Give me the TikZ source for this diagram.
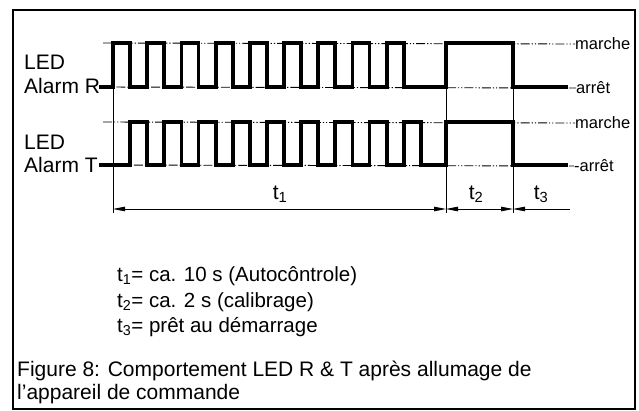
\documentclass[tikz,border=0pt]{standalone}
\usepackage{fontspec}
\setmainfont{Liberation Sans}
\usetikzlibrary{arrows.meta}
\begin{document}
\begin{tikzpicture}[x=1pt,y=-1pt,
  sig/.style={line width=3.8pt,line join=miter,line cap=butt},
  refline/.style={line width=0.9pt,dash pattern=on 9pt off 2pt on 1.2pt off 2pt on 1.2pt off 2pt},
  thin/.style={line width=0.8pt},
  lbl/.style={anchor=base west,inner sep=0pt,font=\fontsize{21}{25}\selectfont},
  deflbl/.style={anchor=base west,inner sep=0pt,font=\fontsize{20.5}{25}\selectfont},
  lvl/.style={anchor=west,inner sep=0pt,font=\fontsize{16.5}{20}\selectfont},
  tlbl/.style={anchor=base,inner sep=0pt,font=\fontsize{21}{25}\selectfont},
  dimarrow/.style={-{Triangle[length=12pt,width=4.5pt]},thin}]
\useasboundingbox (0,0) rectangle (639,410);
\draw[line width=2pt] (13,10) rectangle (635,409);

% level labels
\node[lbl] (ledr) at (24,69) {LED};
\node[lbl] (alr) at (24,93) {Alarm R};
\node[lbl] (ledt) at (24,149) {LED};
\node[lbl] (alt) at (24,172) {Alarm T};
\node[lvl] (mr) at (575,44) {marche};
\node[lvl] (ar) at (576,88) {arrêt};
\node[lvl] (mt) at (575,123) {marche};
\node[lvl] (at) at (574,166) {-arrêt};

% reference dash-dot lines
\draw[refline] (103,43) -- (mr.west);
\draw[refline] (99,87) -- (ar.west);
\draw[refline] (103,122) -- (mt.west);
\draw[refline] (99,165) -- (at.west);

% time markers
\coordinate (a0) at (113,87);
\coordinate (a1) at (446,43);
\coordinate (a2) at (513,43);
\coordinate (b0) at (113,213);
\coordinate (b1) at (446,213);
\coordinate (b2) at (513,213);
\draw[thin] (a0) -- (b0);
\draw[thin] (a1) -- (b1);
\draw[thin] (a2) -- (b2);

% signals
\draw[sig] (99,87) foreach \k in {0,...,8} {
  -- ({113+34.2*\k},87) -- ({113+34.2*\k},43) -- ({130.1+34.2*\k},43) -- ({130.1+34.2*\k},87) }
  -- (446,87) -- (446,43) -- (513,43) -- (513,87) -- (568,87);
\draw[sig] (99,165) foreach \k in {0,...,8} {
  -- ({130.1+34.2*\k},165) -- ({130.1+34.2*\k},122) -- ({147.2+34.2*\k},122) -- ({147.2+34.2*\k},165) }
  -- (446,165) -- (446,122) -- (513,122) -- (513,165) -- (568,165);

% dimension line
\coordinate (d0) at (113,209);
\coordinate (d1) at (446,209);
\coordinate (d2) at (513,209);
\coordinate (d3) at (570,209);
\coordinate (m1) at (280,209);
\coordinate (m2) at (479,209);
\draw[dimarrow] (m1) -- (d0);
\draw[dimarrow] (m1) -- (d1);
\draw[dimarrow] (m2) -- (d1);
\draw[dimarrow] (m2) -- (d2);
\draw[dimarrow] (d3) -- (d2);

\node[tlbl] (t1) at (280,199) {t\textsubscript{1}};
\node[tlbl] (t2) at (476,199) {t\textsubscript{2}};
\node[tlbl] (t3) at (541,199) {t\textsubscript{3}};

% definitions
\node[deflbl] (def1) at (117,281) {t\textsubscript{1}= ca. 10 s (Autocôntrole)};
\node[deflbl] (def2) at (117,307) {t\textsubscript{2}= ca. 2 s (calibrage)};
\node[deflbl] (def3) at (117,332) {t\textsubscript{3}= prêt au démarrage};

% caption
\node[lbl] (cap1) at (17,376) {Figure 8: Comportement LED R \& T après allumage de};
\node[lbl] (cap2) at (17,399) {l’appareil de commande};
\end{tikzpicture}
\end{document}
